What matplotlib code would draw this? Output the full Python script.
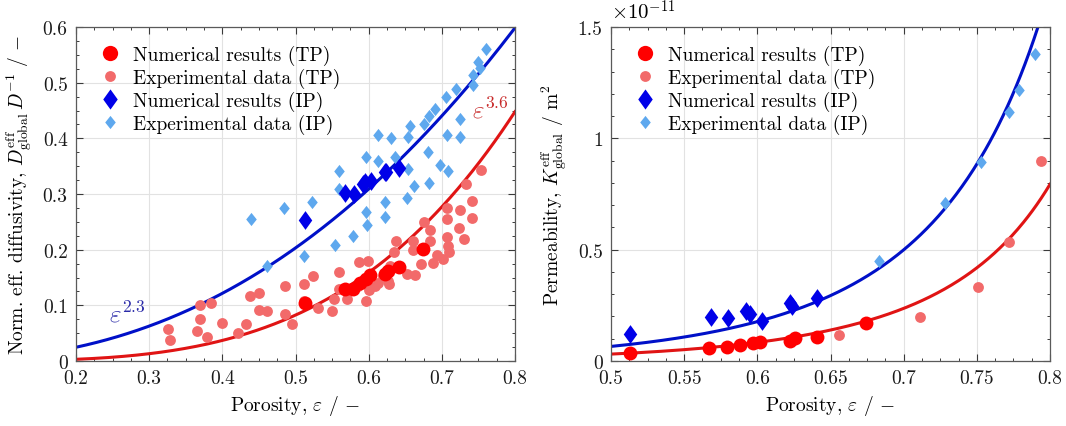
import numpy as np
import matplotlib
matplotlib.use('Agg')
import matplotlib.pyplot as plt
from matplotlib.ticker import MultipleLocator, FuncFormatter
from matplotlib.lines import Line2D

plt.rcParams['font.family'] = 'serif'
plt.rcParams['font.serif'] = ['cmr10', 'DejaVu Serif']
plt.rcParams['mathtext.fontset'] = 'cm'
plt.rcParams['axes.formatter.use_mathtext'] = True

# ---------------- data ----------------
# Numerical results, through-plane (TP)
num_tp_eps = [0.513, 0.567, 0.579, 0.588, 0.597, 0.602, 0.622, 0.626, 0.641, 0.674]
num_tp_diff = [0.104, 0.129, 0.129, 0.141, 0.147, 0.155, 0.156, 0.162, 0.168, 0.202]
num_tp_perm = [0.036, 0.058, 0.061, 0.073, 0.081, 0.087, 0.088, 0.102, 0.108, 0.171]  # x1e-11

# Numerical results, in-plane (IP)
num_ip_eps = [0.513, 0.568, 0.580, 0.592, 0.595, 0.603, 0.622, 0.624, 0.641]
num_ip_diff = [0.254, 0.302, 0.300, 0.318, 0.321, 0.324, 0.339, 0.340, 0.347]
num_ip_perm = [0.121, 0.199, 0.192, 0.223, 0.211, 0.180, 0.260, 0.245, 0.281]  # x1e-11

# Experimental diffusivity data (TP)
exp_tp_diff_eps = [0.326, 0.328, 0.370, 0.370, 0.365, 0.379, 0.385, 0.400, 0.422, 0.433,
                   0.438, 0.450, 0.450, 0.461, 0.486, 0.486, 0.495, 0.511, 0.511, 0.524,
                   0.531, 0.550, 0.552, 0.559, 0.559, 0.570, 0.587, 0.599, 0.596, 0.600,
                   0.586, 0.613, 0.628, 0.634, 0.638, 0.629, 0.652, 0.663, 0.661, 0.661,
                   0.671, 0.675, 0.684, 0.684, 0.688, 0.693, 0.702, 0.707, 0.707, 0.707,
                   0.709, 0.710, 0.724, 0.725, 0.730, 0.733, 0.741, 0.741, 0.753, 0.609,
                   0.620, 0.626]
exp_tp_diff_val = [0.057, 0.038, 0.101, 0.075, 0.053, 0.044, 0.105, 0.069, 0.050, 0.066,
                   0.116, 0.122, 0.092, 0.089, 0.134, 0.084, 0.067, 0.138, 0.108, 0.152,
                   0.095, 0.090, 0.112, 0.160, 0.129, 0.111, 0.178, 0.179, 0.107, 0.128,
                   0.135, 0.141, 0.138, 0.196, 0.216, 0.171, 0.157, 0.155, 0.200, 0.216,
                   0.174, 0.249, 0.236, 0.216, 0.176, 0.190, 0.183, 0.274, 0.255, 0.222,
                   0.207, 0.195, 0.239, 0.272, 0.220, 0.318, 0.288, 0.256, 0.344, 0.135,
                   0.153, 0.144]

# Experimental diffusivity data (IP)
exp_ip_diff_eps = [0.439, 0.484, 0.523, 0.461, 0.511, 0.554, 0.579, 0.598, 0.597, 0.622,
                   0.622, 0.559, 0.559, 0.597, 0.613, 0.613, 0.630, 0.636, 0.654, 0.657,
                   0.654, 0.653, 0.662, 0.675, 0.683, 0.691, 0.681, 0.683, 0.698, 0.708,
                   0.707, 0.706, 0.719, 0.725, 0.725, 0.742, 0.743, 0.750, 0.752, 0.761]
exp_ip_diff_val = [0.255, 0.274, 0.286, 0.170, 0.189, 0.208, 0.225, 0.244, 0.267, 0.258,
                   0.285, 0.342, 0.309, 0.366, 0.360, 0.406, 0.400, 0.366, 0.402, 0.423,
                   0.345, 0.292, 0.314, 0.426, 0.440, 0.453, 0.375, 0.320, 0.352, 0.342,
                   0.406, 0.474, 0.489, 0.434, 0.402, 0.514, 0.496, 0.538, 0.526, 0.560]

# Experimental permeability data (x1e-11)
exp_tp_perm_eps = [0.656, 0.711, 0.751, 0.772, 0.794]
exp_tp_perm_val = [0.116, 0.199, 0.334, 0.533, 0.897]
exp_ip_perm_eps = [0.683, 0.728, 0.753, 0.772, 0.779, 0.790]
exp_ip_perm_val = [0.448, 0.708, 0.895, 1.117, 1.217, 1.379]

# Model curves
exp_ip = 2.3   # D ~ eps^2.3
exp_tp = 3.6   # D ~ eps^3.6
kc_ip = 0.131  # K = c * eps^3/(1-eps)^2  (x1e-11 m^2)
kc_tp = 0.062

# ---------------- styling ----------------
c_num_tp = '#ff0000'
c_exp_tp = '#f26a6a'
c_num_ip = '#0000e8'
c_exp_ip = '#5ea8ee'
c_line_ip = '#0010c8'
c_line_tp = '#e01414'

diamond_big = [(0, 1), (0.72, 0), (0, -1), (-0.72, 0), (0, 1)]
diamond_small = [(0, 1), (0.8, 0), (0, -1), (-0.8, 0), (0, 1)]

FS = 14
MS_NUM_C, MS_EXP_C, MS_NUM_D, MS_EXP_D = 10, 7.8, 13.5, 9.5

fig = plt.figure(figsize=(10.66, 4.27), dpi=100)
axL = fig.add_axes([76 / 1066, 65 / 427, 439 / 1066, 334 / 427])
axR = fig.add_axes([611 / 1066, 65 / 427, 439 / 1066, 334 / 427])


def style_axes(ax):
    ax.grid(True, which='major', color='#e2e2e2', linewidth=0.8, zorder=0)
    ax.set_axisbelow(True)
    ax.tick_params(which='both', direction='in', top=True, right=True,
                   colors='#3a3a3a', labelcolor='#1a1a1a', labelsize=FS)
    ax.tick_params(which='major', length=5, width=0.8, pad=6)
    ax.tick_params(which='minor', length=2.5, width=0.7)
    for s in ax.spines.values():
        s.set_color('#5a5a5a')
        s.set_linewidth(0.9)


fmt = FuncFormatter(lambda v, p: '%g' % round(v, 4))

# ---- left: diffusivity ----
e = np.linspace(0.2, 0.8, 300)
axL.plot(e, e ** exp_ip, color=c_line_ip, lw=2.2, zorder=2)
axL.plot(e, e ** exp_tp, color=c_line_tp, lw=2.2, zorder=2)
axL.plot(exp_tp_diff_eps, exp_tp_diff_val, 'o', ms=MS_EXP_C, color=c_exp_tp, mec='none', zorder=3)
axL.plot(exp_ip_diff_eps, exp_ip_diff_val, ls='none', marker=diamond_small, ms=MS_EXP_D, color=c_exp_ip, mec='none', zorder=3)
axL.plot(num_tp_eps, num_tp_diff, 'o', ms=MS_NUM_C, color=c_num_tp, mec='none', zorder=4)
axL.plot(num_ip_eps, num_ip_diff, ls='none', marker=diamond_big, ms=MS_NUM_D, color=c_num_ip, mec='none', zorder=4)
axL.set_xlim(0.2, 0.8)
axL.set_ylim(0, 0.6)
axL.xaxis.set_major_locator(MultipleLocator(0.1))
axL.xaxis.set_minor_locator(MultipleLocator(0.025))
axL.yaxis.set_major_locator(MultipleLocator(0.1))
axL.yaxis.set_minor_locator(MultipleLocator(0.025))
axL.xaxis.set_major_formatter(fmt)
axL.yaxis.set_major_formatter(fmt)
style_axes(axL)
axL.set_xlabel(r'Porosity, $\varepsilon$ / $-$', fontsize=FS, labelpad=4)
axL.set_ylabel(r'Norm. eff. diffusivity, $D^{\rm eff}_{\rm global}\,D^{-1}$ / $-$', fontsize=FS, labelpad=6)
axL.text(0.27, 0.086, r'$\varepsilon^{2.3}$', color='#2a2aa8', fontsize=18, ha='center', va='center')
axL.text(0.766, 0.452, r'$\varepsilon^{3.6}$', color='#c82a2a', fontsize=18, ha='center', va='center')

# ---- right: permeability ----
e2 = np.linspace(0.5, 0.8, 300)
axR.plot(e2, kc_ip * e2 ** 3 / (1 - e2) ** 2, color=c_line_ip, lw=2.2, zorder=2)
axR.plot(e2, kc_tp * e2 ** 3 / (1 - e2) ** 2, color=c_line_tp, lw=2.2, zorder=2)
axR.plot(exp_tp_perm_eps, exp_tp_perm_val, 'o', ms=MS_EXP_C, color=c_exp_tp, mec='none', zorder=3, clip_on=False)
axR.plot(exp_ip_perm_eps, exp_ip_perm_val, ls='none', marker=diamond_small, ms=MS_EXP_D, color=c_exp_ip, mec='none', zorder=3)
axR.plot(num_tp_eps, num_tp_perm, 'o', ms=MS_NUM_C, color=c_num_tp, mec='none', zorder=4)
axR.plot(num_ip_eps, num_ip_perm, ls='none', marker=diamond_big, ms=MS_NUM_D, color=c_num_ip, mec='none', zorder=4)
axR.set_xlim(0.5, 0.8)
axR.set_ylim(0, 1.5)
axR.xaxis.set_major_locator(MultipleLocator(0.05))
axR.xaxis.set_minor_locator(MultipleLocator(0.0125))
axR.yaxis.set_major_locator(MultipleLocator(0.5))
axR.yaxis.set_minor_locator(MultipleLocator(0.1))
axR.xaxis.set_major_formatter(fmt)
axR.yaxis.set_major_formatter(fmt)
style_axes(axR)
axR.set_xlabel(r'Porosity, $\varepsilon$ / $-$', fontsize=FS, labelpad=4)
axR.set_ylabel(r'Permeability, $K^{\rm eff}_{\rm global}$ / m$^2$', fontsize=FS, labelpad=6)
axR.text(0.0, 1.012, r'$\times10^{-11}$', transform=axR.transAxes, fontsize=15,
         ha='left', va='bottom')

# ---- legends ----
handles = [
    Line2D([], [], ls='none', marker='o', ms=MS_NUM_C + 1, color=c_num_tp, mec='none'),
    Line2D([], [], ls='none', marker='o', ms=MS_EXP_C, color=c_exp_tp, mec='none'),
    Line2D([], [], ls='none', marker=diamond_big, ms=MS_NUM_D + 1, color=c_num_ip, mec='none'),
    Line2D([], [], ls='none', marker=diamond_small, ms=MS_EXP_D, color=c_exp_ip, mec='none'),
]
labels = ['Numerical results (TP)', 'Experimental data (TP)',
          'Numerical results (IP)', 'Experimental data (IP)']
for ax in (axL, axR):
    ax.legend(handles, labels, loc='upper left', bbox_to_anchor=(0.037, 0.958),
              frameon=False, fontsize=FS, handlelength=1.4, handletextpad=0.5,
              labelspacing=0.15, borderpad=0.2, borderaxespad=0)

fig.savefig('out.png', dpi=100)
